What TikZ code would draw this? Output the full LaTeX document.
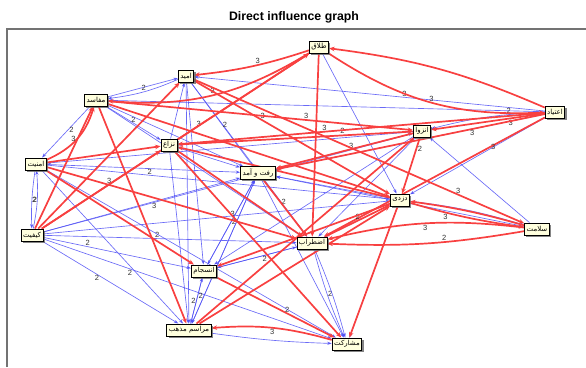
\documentclass[tikz,border=0pt]{standalone}
\usepackage{fontspec}
\setmainfont{Liberation Sans}
\newfontfamily\fa[Script=Arabic]{DejaVu Sans}
\TeXXeTstate=1
\usetikzlibrary{arrows.meta,shadows,backgrounds}
\definecolor{redc}{RGB}{248,64,64}
\definecolor{bluec}{RGB}{80,80,245}
\definecolor{boxfill}{RGB}{255,255,222}
\newcommand\pers[1]{\beginR #1\endR}
\tikzset{
 box/.style={draw=black, line width=0.9pt, fill=boxfill, inner sep=2pt, font=\fa\fontsize{7}{8}\selectfont,
   drop shadow={shadow xshift=1.8pt, shadow yshift=-1.8pt, fill=black!60, opacity=0.8}, minimum height=12pt},
 rarc/.style={draw=redc, line width=1.7pt, -{Stealth[length=5.5pt,width=4.5pt]}},
 barc/.style={draw=bluec, line width=0.65pt, draw opacity=0.85, -{Stealth[length=4.5pt,width=3.2pt]}},
 lab/.style={font=\fontsize{7.5}{8}\selectfont, text=black!80, inner sep=0.6pt},
 vl/.style={bend right=#1},
 vr/.style={bend left=#1},
}
\begin{document}
\begin{tikzpicture}[x=1pt,y=-1pt]
\useasboundingbox (0,0) rectangle (586,367);
\node[font=\bfseries\fontsize{12.3}{14}\selectfont] (title) at (294,17) {Direct influence graph};
\draw[black!55, line width=1.3pt] (7,367) -- (7,29) -- (586,29);

% nodes
\node[box] (T) at (319,47) {\pers{طلاق}};
\node[box] (O) at (186,76) {\pers{امید}};
\node[box] (M) at (96,100) {\pers{مفاسد}};
\node[box] (E) at (555,112) {\pers{اعتیاد}};
\node[box] (Z) at (422,131) {\pers{انزوا}};
\node[box] (N) at (169,145) {\pers{نزاع}};
\node[box] (A) at (36,164) {\pers{امنیت}};
\node[box] (R) at (258,173) {\pers{رفت و آمد}};
\node[box] (D) at (400,200) {\pers{دزدی}};
\node[box] (S) at (537,229) {\pers{سلامت}};
\node[box] (K) at (32,235) {\pers{کیفیت}};
\node[box] (X) at (312,243) {\pers{اضطراب}};
\node[box] (J) at (204,271) {\pers{انسجام}};
\node[box] (Q) at (189,330) {\pers{مراسم مذهب}};
\node[box] (P) at (347,344) {\pers{مشارکت}};

\begin{scope}[on background layer]
% blue (2)
\draw[barc] (K) to[vl=8] node[lab,left]{2} (A);
\draw[barc] (A) to[vl=5] node[lab,right]{2} (K);
\draw[barc] (K) -- (M);
\draw[barc] (K) -- (R);
\draw[barc] (K) -- (N);
\draw[barc] (K) -- (D);
\draw[barc] (K) -- node[lab,pos=.3,below]{3} (Z);
\draw[barc] (K) -- node[lab,pos=.45,above]{2} (X);
\draw[barc] (K) -- node[lab,pos=.3,above]{2} (J);
\draw[barc] (K) -- node[lab,pos=.4,below]{2} (Q);
\draw[barc] (K) -- node[lab,pos=.3,below]{2} (P);
\draw[barc] (A) -- (R);
\draw[barc] (A) -- (Q);
\draw[barc] (A) -- (P);
\draw[barc] (A) -- node[lab,pos=.3,above]{2} (D);
\draw[barc] (M) -- node[lab,pos=.5,above]{2} (N);
\draw[barc] (M) -- (R);
\draw[barc] (M) -- (X);
\draw[barc] (M) -- node[lab,pos=.45,right]{2} (A);
\draw[barc] (M) -- (O);
\draw[barc] (O) to[vr=8] node[lab,above]{2} (M);
\draw[barc] (O) -- (Q);
\draw[barc] (O) -- (J);
\draw[barc] (O) -- (X);
\draw[barc] (O) -- node[lab,pos=.5,right]{2} (R);
\draw[barc] (N) -- (O);
\draw[barc] (N) -- (R);
\draw[barc] (N) -- (Q);
\draw[barc] (T) -- (D);
\draw[barc] (E) -- node[lab,pos=.4,above]{3} (O);
\draw[barc] (E) -- (M);
\draw[barc] (E) to[vl=6] node[lab,pos=.3,above]{2} (Z);
\draw[barc] (E) -- (R);
\draw[barc] (E) -- (N);
\draw[barc] (E) -- (X);
\draw[barc] (E) -- (D);
\draw[barc] (Z) -- (N);
\draw[barc] (Z) -- node[lab,pos=.45,above]{3} (R);
\draw[barc] (Z) -- (J);
\draw[barc] (Z) -- (X);
\draw[barc] (Z) -- (A);
\draw[barc] (R) -- node[lab,pos=.4,left]{3} (J);
\draw[barc] (J) -- node[lab,pos=.5,right]{2} (R);
\draw[barc] (R) -- (Q);
\draw[barc] (R) -- node[lab,pos=.4,right]{2} (X);
\draw[barc] (R) -- (P);
\draw[barc] (J) -- node[lab,pos=.5,left]{2} (Q);
\draw[barc] (Q) -- node[lab,pos=.6,right]{2} (J);
\draw[barc] (J) -- (X);
\draw[barc] (Q) -- (R);
\draw[barc] (X) to[vl=4] node[lab,pos=.5,right]{2} (P);
\draw[barc] (X) to[vr=4] (P);
\draw[barc] (X) -- node[lab,pos=.4,below]{2} (J);
\draw[barc] (D) -- (R);
\draw[barc] (D) -- (X);
\draw[barc] (D) -- (P);
\draw[barc] (D) to[vr=5] (S);
\draw[barc] (S) -- (Z);
\draw[barc] (S) -- (R);
\draw[barc] (Q) to[vl=3] (P);
% red (3)
\draw[rarc] (T) to[vl=18] node[lab,pos=.5,above]{3} (E);
\draw[rarc] (E) to[vl=8] (T);
\draw[rarc] (T) to[vr=18] node[lab,pos=.5,above]{3} (M);
\draw[rarc] (T) to[vr=6] node[lab,pos=.45,above]{3} (O);
\draw[rarc] (K) -- node[lab,pos=.6,left]{3} (T);
\draw[rarc] (N) -- (T);
\draw[rarc] (O) -- node[lab,pos=.35,above]{3} (D);
\draw[rarc] (M) -- node[lab,pos=.65,above]{3} (Z);
\draw[rarc] (M) -- (D);
\draw[rarc] (M) -- (Q);
\draw[rarc] (A) to[vl=25] node[lab,left]{3} (M);
\draw[rarc] (A) -- (N);
\draw[rarc] (A) -- node[lab,pos=.25,above]{3} (X);
\draw[rarc] (A) -- (J);
\draw[rarc] (K) -- (M);
\draw[rarc] (K) -- (O);
\draw[rarc] (K) -- (N);
\draw[rarc] (N) -- (X);
\draw[rarc] (N) -- (P);
\draw[rarc] (N) -- node[lab,pos=.7,above]{2} (Z);
\draw[rarc] (E) -- node[lab,pos=.3,below]{3} (Z);
\draw[rarc] (E) -- node[lab,pos=.27,below]{3} (R);
\draw[rarc] (E) -- node[lab,pos=.25,right]{3} (X);
\draw[rarc] (E) -- node[lab,pos=.6,above]{3} (N);
\draw[rarc] (D) to[vl=4] node[lab,pos=.3,below]{3} (S);
\draw[rarc] (S) to[vl=4] (D);
\draw[rarc] (S) to[vr=6] node[lab,pos=.4,above]{2} (X);
\draw[rarc] (S) to[vl=10] node[lab,pos=.5,below]{3} (X);
\draw[rarc] (D) -- (P);
\draw[rarc] (Z) -- node[lab,pos=.2,right]{2} (D);
\draw[rarc] (T) -- (X);
\draw[rarc] (X) -- node[lab,pos=.5,above]{2} (D);
\draw[rarc] (P) to[vl=10] node[lab,below]{3} (Q);
\draw[rarc] (O) -- node[lab,pos=.8,above]{3} (S);
\draw[rarc] (D) -- (J);
\draw[rarc] (Q) -- (Z);
\draw[rarc] (Q) -- (D);
\draw[rarc] (J) -- node[lab,pos=.6,above]{2} (P);
\draw[rarc] (R) -- (X);
\draw[rarc] (D) -- (N);
\draw[rarc] (Z) -- (R);
\end{scope}
\end{tikzpicture}
\end{document}
